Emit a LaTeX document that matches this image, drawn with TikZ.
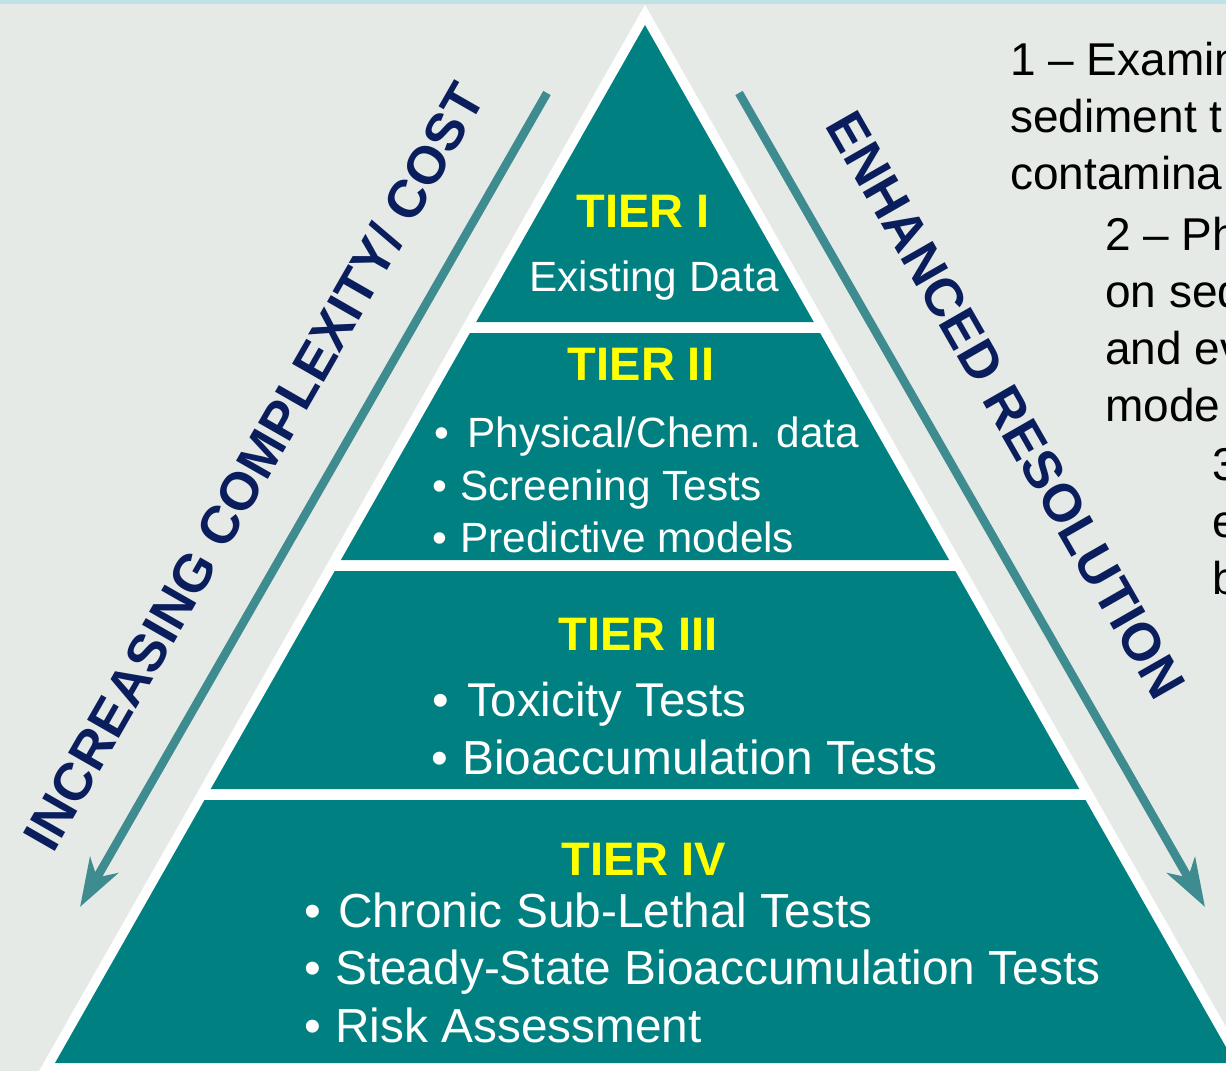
\documentclass[tikz,border=0pt]{standalone}
\usepackage{fontspec}
\setmainfont{Liberation Sans}
\usetikzlibrary{arrows.meta}

\definecolor{bgcol}{HTML}{E6EAE7}
\definecolor{topband}{HTML}{BEE2E5}
\definecolor{tierteal}{HTML}{008080}
\definecolor{arrowteal}{HTML}{3F8C90}
\definecolor{labelnavy}{HTML}{0A1E5E}
\definecolor{tieryellow}{HTML}{FFFF00}

\newcommand\fs[1]{\fontsize{#1pt}{#1pt}\selectfont}

\tikzset{
  tierband/.style={fill=tierteal, draw=none},
  tiertitle/.style={text=tieryellow, font=\fs{47}\bfseries, anchor=base, inner sep=0pt},
  tieritem/.style={text=white, font=\fs{42.3}, anchor=base west, inner sep=0pt},
  bigitem/.style={text=white, font=\fs{47.8}, anchor=base west, inner sep=0pt},
  sidelabel/.style={text=labelnavy, font=\fs{53.2}\bfseries, anchor=base, inner sep=0pt},
  sidearrow/.style={draw=arrowteal, line width=8.5pt,
    -{Stealth[length=48pt, width=32pt, inset=14pt]}},
  notes/.style={text=black, font=\fs{46}, anchor=base west, inner sep=0pt},
}

\begin{document}
\begin{tikzpicture}[x=1pt, y=-1pt]
  \useasboundingbox (0,0) rectangle (1226,1071);
  \clip (0,0) rectangle (1226,1071);

  % backdrop
  \fill[bgcol] (0,0) rectangle (1226,1071);
  \fill[topband] (0,0) rectangle (1226,4);

  % white frame of the pyramid
  \fill[white] (645,5) -- (1267.4,1100) -- (22.6,1100) -- cycle;

  % the four tiers
  \fill[tierband] (645,25) -- (813.8,322) -- (476.2,322) -- cycle;
  \fill[tierband] (469.9,333) -- (820.1,333) -- (949.1,560) -- (340.9,560) -- cycle;
  \fill[tierband] (334.7,571) -- (955.3,571) -- (1079.3,789) -- (210.7,789) -- cycle;
  \fill[tierband] (204.5,800) -- (1085.5,800) -- (1235,1063) -- (55,1063) -- cycle;

  % tier I
  \node[tiertitle] (t1title) at (643,227) {TIER I};
  \node[tieritem, anchor=base] (t1item) at (654,291) {Existing Data};

  % tier II
  \node[tiertitle] (t2title) at (641,380) {TIER II};
  \node[tieritem] (t2a) at (434.6,447) {•\hspace{17.7pt}Physical/Chem. data};
  \node[tieritem] (t2b) at (432.6,500) {•\hspace{12.7pt}Screening Tests};
  \node[tieritem] (t2c) at (432.6,552) {•\hspace{12.7pt}Predictive models};

  % tier III
  \node[tiertitle] (t3title) at (638,650) {TIER III};
  \node[bigitem, font=\fs{47.4}] (t3a) at (432.7,716) {•\hspace{17.7pt}Toxicity Tests};
  \node[bigitem] (t3b) at (431.6,774) {•\hspace{13.7pt}Bioaccumulation Tests};

  % tier IV
  \node[tiertitle] (t4title) at (644,875) {TIER IV};
  \node[bigitem] (t4a) at (304.6,927) {•\hspace{16.7pt}Chronic Sub-Lethal Tests};
  \node[bigitem] (t4b) at (304.6,984) {•\hspace{13.7pt}Steady-State Bioaccumulation Tests};
  \node[bigitem] (t4c) at (304.6,1042) {•\hspace{13.7pt}Risk Assessment};

  % side arrows
  \coordinate (lstart) at (547,93);
  \coordinate (lend) at (80,907);
  \coordinate (rstart) at (739,93);
  \coordinate (rend) at (1205,907);
  \draw[sidearrow] (lstart) -- (lend);
  \draw[sidearrow] (rstart) -- (rend);

  % side labels
  \node[sidelabel, rotate=60.2] (leftlabel) at (270,476) {INCREASING COMPLEXITY/ COST};
  \node[sidelabel, rotate=-60.2] (rightlabel) at (990,414) {ENHANCED RESOLUTION};

  % notes running off the right edge
  \node[notes] (n1) at (1010,75) {1 – Examin};
  \node[notes] (n2) at (1010,132) {sediment t};
  \node[notes] (n3) at (1010,189) {contamina};
  \node[notes] (n4) at (1105,250) {2 – Ph};
  \node[notes] (n5) at (1105,307) {on sed};
  \node[notes] (n6) at (1105,364) {and ev};
  \node[notes] (n7) at (1105,421) {mode};
  \node[notes] (n8) at (1212,480) {3};
  \node[notes] (n9) at (1212,537) {e};
  \node[notes] (n10) at (1212,594) {b};
\end{tikzpicture}
\end{document}
